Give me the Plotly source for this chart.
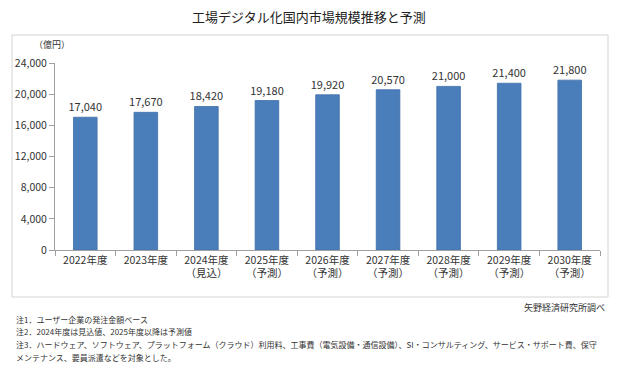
import plotly.graph_objects as go

categories = ["2022年度", "2023年度", "2024年度<br>（見込）", "2025年度<br>（予測）", "2026年度<br>（予測）",
              "2027年度<br>（予測）", "2028年度<br>（予測）", "2029年度<br>（予測）", "2030年度<br>（予測）"]
values = [17040, 17670, 18420, 19180, 19920, 20570, 21000, 21400, 21800]
y_ticks = [0, 4000, 8000, 12000, 16000, 20000, 24000]

title = "工場デジタル化国内市場規模推移と予測"
unit = "（億円）"
source = "矢野経済研究所調べ"
notes = [
    "注1．ユーザー企業の発注金額ベース",
    "注2．2024年度は見込値、2025年度以降は予測値",
    "注3．ハードウェア、ソフトウェア、プラットフォーム（クラウド）利用料、工事費（電気設備・通信設備）、SI・コンサルティング、サービス・サポート費、保守",
    "メンテナンス、要員派遣などを対象とした。",
]

W, H = 620, 374
L, R, T, B = 55, 600, 63, 250
FONT = "Noto Sans CJK JP"

def px(x):
    return (x - L) / (R - L)

def py(y):
    return (B - y) / (B - T)

fig = go.Figure(go.Bar(
    x=categories, y=values,
    marker=dict(color="#4a7ebb", line=dict(color="#3f6fa8", width=0.8)),
    text=[f"{v:,}" for v in values], textposition="outside",
    textfont=dict(size=11, color="#333333", family=FONT),
    constraintext="none", cliponaxis=False, hoverinfo="skip",
))

fig.update_layout(
    width=W, height=H,
    margin=dict(l=L, r=W - R, t=T, b=H - B),
    paper_bgcolor="white", plot_bgcolor="white",
    showlegend=False, bargap=0.61,
    font=dict(family=FONT, color="#333333"),
)
fig.update_xaxes(
    type="category", tickson="boundaries", ticks="outside", ticklen=5,
    tickcolor="#a0a0a0", showline=True, linecolor="#a0a0a0", linewidth=1,
    tickfont=dict(size=10.5, color="#333333"), showgrid=False,
)
fig.update_yaxes(
    range=[0, 24000], tickvals=y_ticks, tickformat=",", ticks="outside", ticklen=5,
    tickcolor="#a0a0a0", showline=True, linecolor="#a0a0a0", linewidth=1,
    tickfont=dict(size=10.5, color="#333333"), showgrid=False, zeroline=False,
)

fig.add_shape(type="rect", xref="paper", yref="paper",
              x0=px(12), x1=px(608), y0=py(297), y1=py(35),
              line=dict(color="#d4d4d4", width=1), layer="below")

ann = []
ann.append(dict(text=title, x=px(309), y=py(16), xanchor="center", yanchor="middle",
                font=dict(size=13, color="#222222")))
ann.append(dict(text=unit, x=px(52), y=py(44), xanchor="center", yanchor="middle",
                font=dict(size=9, color="#333333")))
ann.append(dict(text=source, x=px(607), y=py(307), xanchor="right", yanchor="middle",
                font=dict(size=9, color="#333333")))
for i, n in enumerate(notes):
    ann.append(dict(text=n, x=px(14), y=py(319 + 12.7 * i), xanchor="left", yanchor="middle",
                    font=dict(size=8, color="#333333")))
for a in ann:
    a.update(xref="paper", yref="paper", showarrow=False)
    fig.add_annotation(**a)

fig.write_html("out.html", config={"displayModeBar": False},
               post_script="document.body.style.margin='0';")
